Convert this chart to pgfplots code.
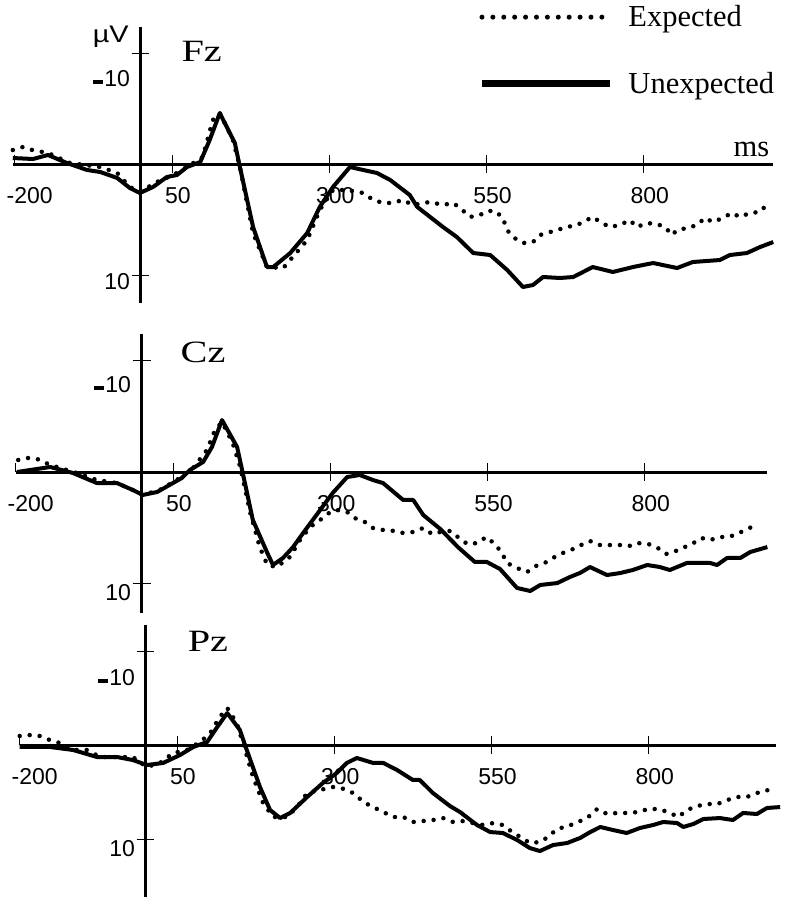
\documentclass[border=0pt]{standalone}
\usepackage{fontspec}
\setmainfont{Liberation Serif}
\setsansfont{Liberation Sans}
\usepackage{pgfplots}
\pgfplotsset{compat=1.18}
\newcommand{\tl}{\sffamily\fontsize{23}{23}\selectfont}
\newcommand{\negten}{\rule[2.5pt]{10pt}{4pt}\kern1pt 10}
\pgfplotsset{
  erp/.style={
    anchor=origin,
    x=0.629pt,
    y dir=reverse,
    axis lines=middle,
    axis line style={line width=3pt,-},
    clip=false,
    xtick={50,300,550,800},
    xticklabels={50,300,550,800},
    ytick={-10,10},
    yticklabels={},
    tick style={line width=0.6pt,black},
    major tick length=18pt,
    tick align=center,
    xticklabel style={font=\tl,anchor=north,xshift=6pt,yshift=-11pt},
    yticklabel style={font=\tl,anchor=east,xshift=-7pt},
    extra y tick style={major tick length=0pt},
    extra x ticks={-200},
    extra x tick labels={-200},
    extra x tick style={major tick length=9pt,tick align=outside,xticklabel style={xshift=9pt}},
  },
  unexp/.style={line width=4pt,black,line join=round},
  exp/.style={line width=4.5pt,black,dash pattern=on 0pt off 10pt,line cap=round},
}
\begin{document}
\begin{tikzpicture}
\useasboundingbox (0pt,0pt) rectangle (789pt,-904pt);

% ---------------- Fz ----------------
\begin{axis}[erp, at={(140.5pt,-164pt)}, y=11.1pt,
  xmin=-203, xmax=1005, ymin=-12.3, ymax=12.5,
  extra y ticks={-7.7,10.6}, extra y tick labels={\negten,10},
  legend style={at={(axis cs:537,-14.45)},anchor=north west,draw=none,fill=none,
    font=\fontsize{30.5}{30.5}\selectfont,row sep=40pt,inner sep=0pt},
  legend cell align=left,
  legend image code/.code={\draw[#1] (0pt,0pt) -- (128pt,0pt); \path (141pt,0pt);},
]
\addlegendimage{line width=5pt,dash pattern=on 0pt off 10.9pt,line cap=round}
\addlegendentry{Expected}
\addlegendimage{line width=7pt}
\addlegendentry{Unexpected}
\addplot[unexp,forget plot] coordinates {
(-203,-0.54) (-171,-0.45) (-147,-0.81) (-117,-0.09) (-85,0.54) (-64,0.72) (-37,1.26) (-17,2.16) (-1,2.61) (20,2.07) (42,1.17) (58,0.99) (74,0.27) (95,-0.18) (110,-2.16) (126,-4.59) (150,-1.89) (158,0.27) (179,5.68) (201,9.28) (211,9.28) (238,8.02) (265,6.22) (285,3.87) (306,2.07) (333,0.27) (354,0.54) (376,0.81) (397,1.44) (428,2.79) (440,3.87) (481,5.68) (503,6.58) (529,8.02) (556,8.2) (583,9.55) (608,11.08) (624,10.9) (640,10.18) (667,10.27) (688,10.18) (719,9.28) (751,9.73) (783,9.28) (815,8.92) (853,9.37) (878,8.83) (921,8.65) (937,8.2) (964,8.02) (985,7.48) (1006,7.03)
};
\addplot[exp,forget plot] coordinates {
(-203,-1.26) (-187,-1.53) (-172,-1.26) (-147,-0.99) (-112,-0.09) (-64,0.27) (-37,0.81) (-17,2.07) (-1,2.52) (26,1.62) (52,0.99) (74,0.27) (99,-0.63) (115,-3.96) (126,-4.59) (147,-2.16) (158,0.27) (179,6.22) (201,9.28) (227,9.37) (242,8.38) (265,6.85) (285,4.14) (306,2.34) (328,2.34) (354,2.61) (370,3.24) (386,3.51) (401,3.51) (417,3.24) (433,3.69) (460,3.42) (481,3.69) (497,3.51) (508,3.96) (524,4.77) (540,4.59) (551,4.23) (564,4.23) (576,4.86) (583,5.95) (592,6.58) (608,7.12) (624,7.03) (635,6.4) (662,5.95) (678,5.68) (694,5.5) (719,4.77) (731,5.23) (746,5.68) (762,5.5) (778,5.05) (789,5.68) (805,5.32) (821,5.41) (834,5.68) (845,6.4) (853,5.95) (869,5.77) (885,5.5) (897,4.86) (910,5.23) (926,4.86) (940,4.41) (953,4.77) (969,4.41) (985,4.32) (998,3.51)
};
\node[anchor=east,font=\sffamily\fontsize{24}{24}\selectfont,xscale=1.2] at (axis cs:-12,-11.5) {µV};
\node[anchor=base east,font=\fontsize{30.5}{30.5}\selectfont] at (axis cs:1005,-0.72) {ms};
\node[anchor=base west,font=\fontsize{31}{31}\selectfont,xscale=1.3] at (axis cs:58,-9.19) {Fz};
\end{axis}

% ---------------- Cz ----------------
\begin{axis}[erp, at={(141.5pt,-472pt)}, y=11.15pt,
  xmin=-200, xmax=995, ymin=-12.4, ymax=12.65,
  extra y ticks={-7.8,10.8}, extra y tick labels={\negten,10},
]
\addplot[unexp] coordinates {
(-198,0) (-145,-0.45) (-109,0.09) (-71,0.99) (-39,0.99) (-14,1.61) (2,2.06) (25,1.79) (50,0.99) (64,0.54) (77,-0.18) (98,-0.9) (112,-2.24) (128,-4.66) (152,-2.24) (161,0.09) (177,4.3) (200,7.26) (209,8.34) (225,7.71) (241,6.73) (257,5.47) (284,3.41) (304,1.88) (327,0.45) (347,0.27) (368,0.72) (384,0.99) (416,2.51) (432,2.51) (448,3.86) (475,5.11) (503,6.73) (530,8.07) (549,8.07) (570,8.7) (597,10.4) (618,10.67) (634,10.13) (661,9.96) (681,9.42) (697,9.06) (713,8.52) (740,9.24) (761,9.06) (781,8.79) (804,8.34) (824,8.52) (840,8.79) (867,8.16) (904,8.16) (915,8.34) (931,7.71) (952,7.71) (968,7.17) (995,6.73)
};
\addplot[exp] coordinates {
(-196,-1.08) (-180,-1.26) (-166,-1.17) (-145,-0.63) (-103,0.09) (-71,0.72) (-39,0.99) (-14,1.61) (2,2.06) (29,1.61) (56,0.72) (82,-0.36) (104,-1.97) (117,-3.77) (128,-4.48) (145,-2.6) (157,-0.45) (173,3.68) (188,6.73) (200,8.34) (215,8.52) (236,7.62) (252,6.1) (268,4.93) (284,4.3) (300,3.59) (311,3.41) (327,3.59) (339,4.13) (355,4.48) (368,5.02) (384,5.2) (403,5.29) (416,5.47) (432,5.38) (448,5.02) (462,5.56) (475,5.38) (491,5.29) (503,5.83) (518,6.46) (534,6.37) (548,5.83) (562,6.46) (573,7.26) (581,8.16) (597,8.61) (613,8.97) (627,8.43) (641,8.16) (654,7.71) (670,7.26) (686,6.91) (702,6.46) (713,6.19) (729,6.55) (745,6.55) (761,6.55) (775,6.64) (789,6.37) (806,6.46) (821,6.82) (834,7.35) (846,7.17) (860,6.82) (875,6.46) (890,5.92) (904,6.1) (920,5.83) (934,5.83) (950,5.47) (966,5.02) (982,4.75)
};
\node[anchor=base west,font=\fontsize{31}{31}\selectfont,xscale=1.3] at (axis cs:55,-9.78) {Cz};
\end{axis}

% ---------------- Pz ----------------
\begin{axis}[erp, at={(145.5pt,-745pt)}, y=9.4pt,
  xmin=-200, xmax=1003, ymin=-12.8, ymax=16.2,
  extra y ticks={-7.2,11.0}, extra y tick labels={\negten,10},
]
\addplot[unexp] coordinates {
(-200,0.21) (-152,0.21) (-115,0.53) (-77,1.28) (-45,1.28) (-20,1.6) (2,2.13) (28,1.91) (55,1.06) (76,0.21) (98,-0.32) (114,-1.91) (130,-3.4) (150,-1.6) (161,0.53) (182,4.47) (198,6.91) (214,7.77) (230,7.23) (257,5.53) (282,4.04) (304,2.98) (320,1.91) (336,1.38) (362,1.91) (378,1.91) (400,2.66) (425,3.72) (436,3.72) (457,5.11) (484,6.49) (500,7.13) (527,8.51) (548,9.26) (568,9.36) (591,10.11) (611,10.96) (627,11.28) (648,10.64) (670,10.43) (691,9.89) (707,9.26) (723,8.72) (743,9.04) (765,9.36) (786,8.83) (807,8.51) (823,8.19) (845,8.3) (855,8.72) (871,8.4) (887,7.87) (913,7.77) (934,7.98) (950,7.23) (972,7.34) (988,6.7) (1009,6.6)
};
\addplot[exp] coordinates {
(-200,-0.96) (-184,-1.06) (-168,-0.96) (-152,-0.53) (-136,-0.21) (-115,0.53) (-93,0.53) (-72,1.28) (-45,1.28) (-20,1.28) (2,2.34) (23,1.91) (44,0.85) (66,0.53) (87,-0.32) (103,-1.28) (118,-2.98) (130,-3.94) (145,-2.34) (155,-0.21) (171,3.4) (187,6.17) (203,7.66) (225,7.66) (241,6.6) (257,5.11) (277,4.79) (298,4.47) (317,4.68) (333,5.21) (346,6.06) (362,6.6) (378,7.13) (394,7.66) (410,7.66) (425,8.19) (441,8.09) (457,7.98) (473,7.77) (489,8.19) (505,8.09) (521,8.3) (537,8.51) (553,8.3) (568,8.51) (583,9.26) (596,9.79) (611,10.43) (627,10.32) (640,9.79) (654,8.94) (672,8.62) (688,8.19) (704,7.66) (718,6.81) (734,7.34) (750,7.23) (767,7.23) (783,7.13) (799,6.81) (815,6.81) (831,7.13) (847,7.66) (861,6.91) (877,6.49) (893,6.28) (909,6.28) (925,5.85) (941,5.53) (956,5.53) (972,5.11) (990,4.79)
};
\node[anchor=base west,font=\fontsize{31}{31}\selectfont,xscale=1.3] at (axis cs:60,-9.9) {Pz};
\end{axis}
\end{tikzpicture}
\end{document}
